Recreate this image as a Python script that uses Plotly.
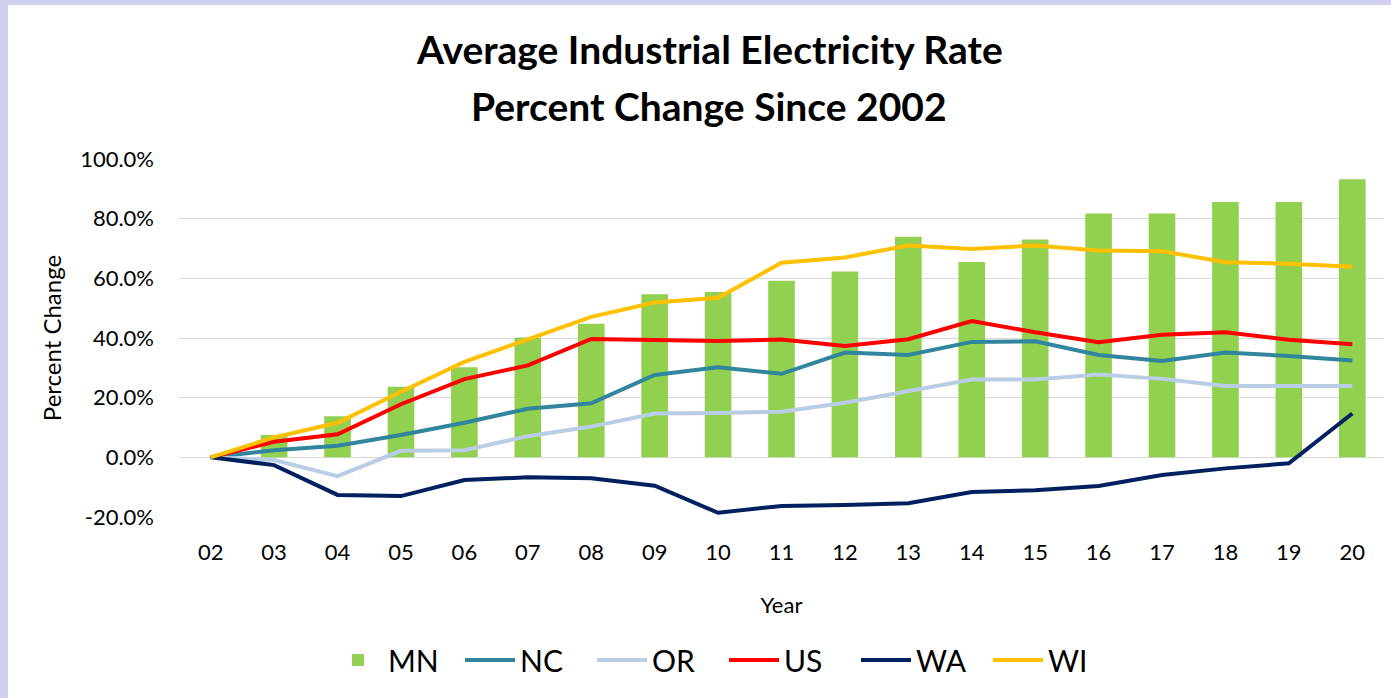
import plotly.graph_objects as go

# Year labels (two-digit, 2002-2020)
years = ["02", "03", "04", "05", "06", "07", "08", "09", "10", "11",
         "12", "13", "14", "15", "16", "17", "18", "19", "20"]

# Percent change in average industrial electricity rate since 2002
mn = [0, 7.5, 13.8, 23.7, 30.2, 40.2, 44.8, 54.7, 55.4, 59.2,
      62.3, 73.9, 65.5, 73.0, 81.7, 81.7, 85.6, 85.6, 93.2]
nc = [0, 2.4, 3.9, 7.5, 11.6, 16.3, 18.1, 27.6, 30.2, 28.0,
      35.1, 34.3, 38.7, 38.9, 34.3, 32.3, 35.1, 34.0, 32.5]
orr = [0, -0.9, -6.3, 2.2, 2.4, 7.1, 10.3, 14.7, 14.9, 15.3,
       18.3, 22.3, 26.1, 26.1, 27.8, 26.3, 23.9, 23.9, 23.9]
us = [0, 5.2, 7.7, 17.8, 26.2, 30.8, 39.7, 39.5, 39.0, 39.5,
      37.3, 39.6, 45.7, 41.9, 38.6, 41.1, 41.9, 39.4, 37.9]
wa = [0, -2.6, -12.6, -13.0, -7.6, -6.7, -7.0, -9.5, -18.6, -16.3,
      -16.0, -15.4, -11.6, -11.0, -9.6, -5.9, -3.7, -2.0, 14.7]
wi = [0, 6.7, 11.6, 22.0, 32.0, 39.5, 47.1, 51.9, 53.5, 65.2,
      67.0, 71.0, 69.8, 71.0, 69.3, 69.1, 65.4, 64.9, 63.9]

y_tick_vals = [-20, 0, 20, 40, 60, 80, 100]
y_tick_text = ["-20.0%", "0.0%", "20.0%", "40.0%", "60.0%", "80.0%", "100.0%"]

FONT = "Lato, Carlito, Calibri, 'Open Sans', sans-serif"
W, H = 1391, 698
ML, MR, MT, MB = 179, 7, 159, 181
PW, PH = W - ML - MR, H - MT - MB


def px_x(p):
    return (p - ML) / PW


def px_y(p):
    return (H - MB - p) / PH


fig = go.Figure()
fig.add_trace(go.Bar(x=years, y=mn, name="MN", marker_color="#92D050",
                     marker_line_width=0))
line_series = [("NC", nc, "#31859C"), ("OR", orr, "#B9CDE5"),
               ("US", us, "#FF0000"), ("WA", wa, "#002060"),
               ("WI", wi, "#FFC000")]
for name, vals, color in line_series:
    fig.add_trace(go.Scatter(x=years, y=vals, name=name, mode="lines",
                             line=dict(color=color, width=4)))

# white card over lavender page
fig.add_shape(type="rect", xref="paper", yref="paper",
              x0=px_x(8), x1=px_x(W + 2), y0=px_y(H + 2), y1=px_y(5),
              fillcolor="white", line_width=0, layer="below")

title_font = dict(family=FONT, size=39, color="black", weight=700)
fig.add_annotation(text="Average Industrial Electricity Rate", xref="paper", yref="paper",
                   x=px_x(709), y=px_y(49), xanchor="center", yanchor="middle",
                   showarrow=False, font=title_font)
fig.add_annotation(text="Percent Change Since 2002", xref="paper", yref="paper",
                   x=px_x(709), y=px_y(106), xanchor="center", yanchor="middle",
                   showarrow=False, font=title_font)

fig.update_layout(
    width=W, height=H,
    margin=dict(l=ML, r=MR, t=MT, b=MB, pad=0),
    paper_bgcolor="#CFD0EE",
    plot_bgcolor="rgba(0,0,0,0)",
    bargap=0.58,
    font=dict(family=FONT, size=22, color="black"),
    showlegend=True,
    legend=dict(orientation="h", x=px_x(724), xanchor="center",
                y=px_y(660), yanchor="middle",
                font=dict(family=FONT, size=30, color="black"),
                itemwidth=50, entrywidth=67, bgcolor="rgba(0,0,0,0)"),
    xaxis=dict(type="category", showgrid=False, zeroline=False, showline=False,
               ticks="", ticklabelstandoff=20,
               tickfont=dict(family=FONT, size=22),
               title=dict(text="Year", font=dict(family=FONT, size=22), standoff=33)),
    yaxis=dict(range=[-20, 100], tickvals=y_tick_vals, ticktext=y_tick_text,
               showgrid=True, gridcolor="#D9D9D9", gridwidth=1.3,
               zeroline=False, showline=False, ticks="", ticklabelstandoff=24,
               tickfont=dict(family=FONT, size=22),
               title=dict(text="Percent Change", font=dict(family=FONT, size=24),
                          standoff=11)),
)

fig.write_html("out.html")
